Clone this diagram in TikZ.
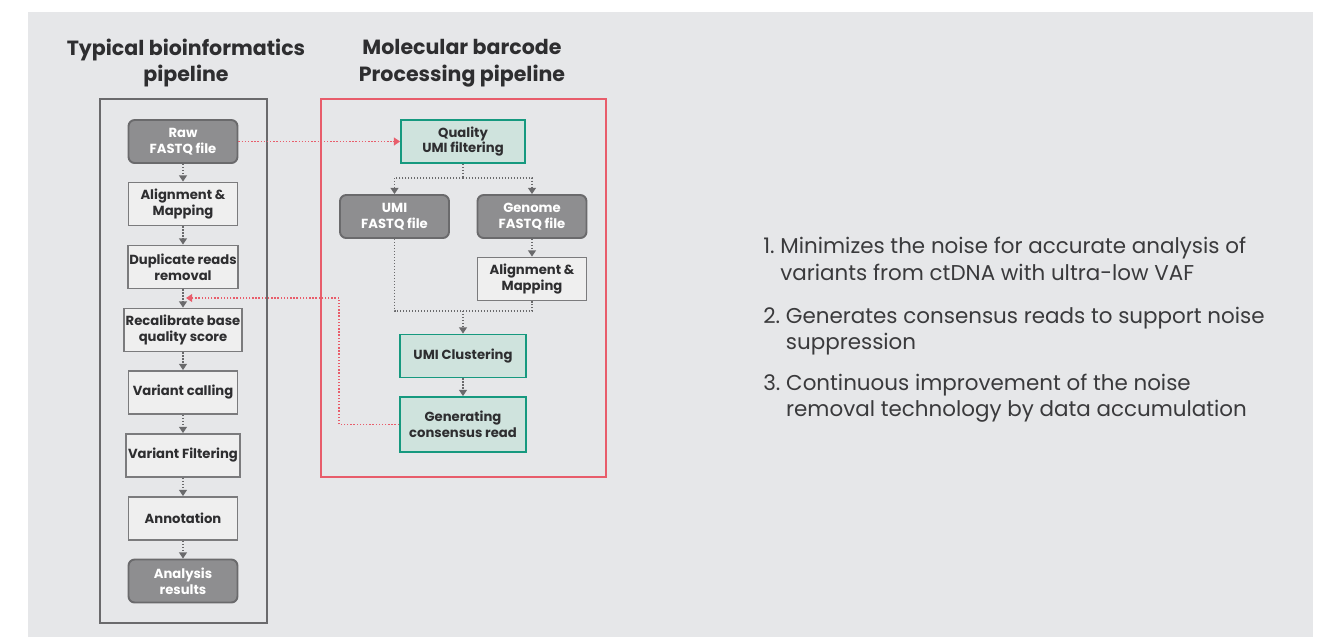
\documentclass[tikz,border=0pt]{standalone}
\usepackage{fontspec}
\setmainfont{Poppins}
\usetikzlibrary{arrows.meta,positioning,fit,backgrounds,graphs}

\definecolor{bggray}{HTML}{E6E7E9}
\definecolor{darkfill}{HTML}{8E8E90}
\definecolor{darkline}{HTML}{6A6A6C}
\definecolor{lightfill}{HTML}{EFEFEF}
\definecolor{lightline}{HTML}{7B7B7D}
\definecolor{tealfill}{HTML}{CFE3DD}
\definecolor{tealline}{HTML}{16997F}
\definecolor{pinkfill}{HTML}{FADADF}
\definecolor{redline}{HTML}{E85D6B}
\definecolor{txtgray}{HTML}{2E2E30}
\definecolor{notegray}{HTML}{3A3A3C}

\begin{document}
\begin{tikzpicture}
	% Styles
	[
	x=0.02cm, y=-0.02cm,
	box/.style={draw, line width=1.1pt, align=center, inner sep=1pt,
		font=\fontsize{7.5}{9}\selectfont\bfseries, text=txtgray,
		minimum width=2.18cm, minimum height=0.86cm},
	darkbox/.style={box, rounded corners=3.5pt, draw=darkline, fill=darkfill, text=white},
	lightbox/.style={box, draw=lightline, fill=lightfill},
	tealbox/.style={box, draw=tealline, fill=tealfill, minimum width=2.52cm},
	title/.style={align=center, font=\fontsize{11.7}{15.3}\selectfont\bfseries, text=txtgray},
	item/.style={anchor=west, align=left, inner sep=0pt,
		font=\fontsize{12.2}{15}\selectfont, text=notegray},
	flow/.style={draw=darkline, densely dotted, line width=0.7pt,
		-{Triangle[width=4.5pt,length=3.5pt]}},
	link/.style={draw=darkline, densely dotted, line width=0.7pt},
	fback/.style={draw=redline, densely dotted, line width=0.8pt,
		-{Triangle[width=4.5pt,length=3.5pt]}},
	]

	% Canvas
	\useasboundingbox (0,0) rectangle (1325,637);
	\fill[bggray] (28,12) rectangle (1313,637);

	% Titles
	\node at (186,63)	(ttypical)	[title] {Typical bioinformatics\\pipeline};
	\node at (462,63)	(tbarcode)	[title] {Molecular barcode\\Processing pipeline};

	% Nodes: typical pipeline
	\node at (183,141.5)	(raw)		[darkbox] {Raw\\FASTQ file};
	\node at (183,204)		(align)		[lightbox] {Alignment \&\\Mapping};
	\node at (183,267)		(dup)		[lightbox] {Duplicate reads\\removal};
	\node at (183,330)		(recal)		[lightbox] {Recalibrate base\\quality score};
	\node at (183,392.5)	(call)		[lightbox] {Variant calling};
	\node at (183,455.5)	(filt)		[lightbox] {Variant Filtering};
	\node at (183,518.5)	(annot)		[lightbox] {Annotation};
	\node at (183,581)		(result)	[darkbox] {Analysis\\results};

	% Nodes: barcode pipeline
	\node at (463,141.5)	(qual)		[tealbox, minimum width=2.48cm] {Quality\\UMI filtering};
	\node at (394.5,216.5)	(umi)		[darkbox] {UMI\\FASTQ file};
	\node at (532,216.5)	(geno)		[darkbox] {Genome\\FASTQ file};
	\node at (532,279)		(align2)	[lightbox] {Alignment \&\\Mapping};
	\node at (463,356)		(clust)		[tealbox] {UMI Clustering};
	\node at (463,424.5)	(gen)		[tealbox, minimum height=1.1cm] {Generating\\consensus read};

	% Frames
	\draw[darkline, line width=1.1pt] (100,99) rectangle (267,623);
	\draw[redline, line width=1.3pt] (321,99) rectangle (606,477);
	\begin{scope}[on background layer]
		\node (umigroup) [fit=(clust)(gen), inner xsep=7pt, inner ysep=6pt,
			rounded corners=6pt, fill=pinkfill, draw=black!25, densely dotted, line width=0.8pt] {};
	\end{scope}

	% Connections
	\graph[use existing nodes, edges={flow}] {
		raw -> align -> dup -> recal -> call -> filt -> annot -> result;
		geno -> align2;
		clust -> gen;
	};
	\coordinate (split) at (463,178);
	\coordinate (merge) at (463,311);
	\coordinate (fbend) at (186,298);
	\draw[link] (qual.south) -- (split);
	\draw[flow] (split) -| (umi.north);
	\draw[flow] (split) -| (geno.north);
	\draw[link] (umi.south) |- (merge) -| (align2.south);
	\draw[flow] (merge) -- (clust.north);
	\draw[fback] (raw.east) -- (qual.west);
	\draw[fback] (gen.west) -- ++(-60,0) |- (fbend);

	% Notes
	\node at (763,259)		(note1)	[item] {1.~Minimizes the noise for accurate analysis of\\\hphantom{1.~}variants from ctDNA with ultra-low VAF};
	\node at (763,331)		(note2)	[item] {2.~Generates consensus reads to support noise\\\hphantom{2.~}suppression};
	\node at (763,398)		(note3)	[item] {3.~Continuous improvement of the noise\\\hphantom{3.~}removal technology by data accumulation};

\end{tikzpicture}
\end{document}
